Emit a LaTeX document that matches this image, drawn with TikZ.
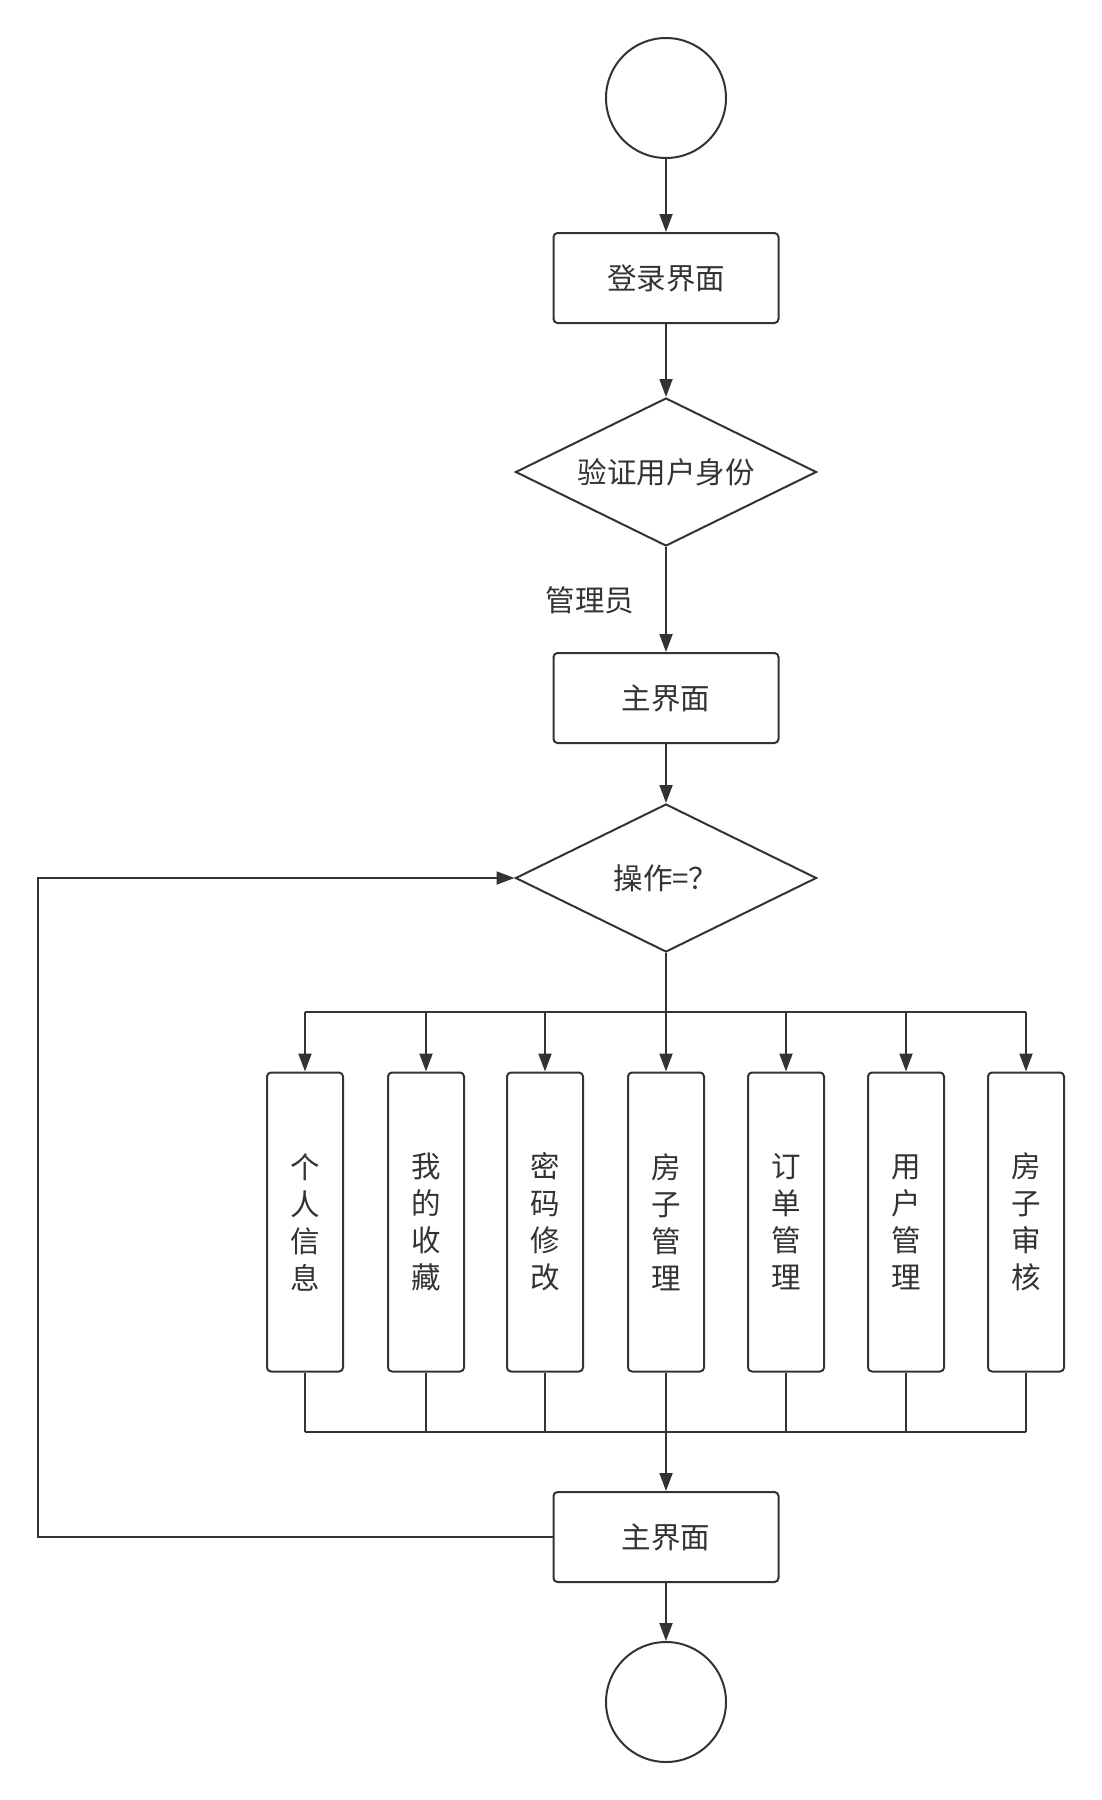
\documentclass[tikz,border=0pt]{standalone}
\usepackage{fontspec}
\setmainfont{Noto Sans CJK SC}
\usetikzlibrary{arrows.meta,shapes.geometric}
\definecolor{ink}{HTML}{333333}
\tikzset{
  flow/.style={draw=ink, line width=2pt, text=ink, font=\fontsize{29.5}{34}\selectfont},
  endpt/.style={flow, circle, minimum size=120pt, inner sep=0pt},
  stepbox/.style={flow, rectangle, rounded corners=4pt, minimum width=225pt, minimum height=90pt},
  choice/.style={flow, diamond, aspect=2, minimum width=301pt, minimum height=148pt, inner sep=0pt},
  funcbox/.style={flow, rectangle, rounded corners=4pt, minimum width=76pt, minimum height=299pt,
    align=center, font=\fontsize{29.5}{37}\selectfont},
  link/.style={draw=ink, line width=2pt},
}
\begin{document}
\begin{tikzpicture}[x=1pt, y=-1pt, >={Triangle[length=18pt,width=13pt]}]
\useasboundingbox (0,0) rectangle (1101,1800);
\node[endpt] (start) at (666,98) {};
\node[stepbox] (login) at (666,278) {登录界面};
\node[choice] (check) at (666,472) {验证用户身份};
\node[text=ink, font=\fontsize{29.5}{34}\selectfont] (admin) at (590,600) {管理员};
\node[stepbox] (main) at (666,698) {主界面};
\node[choice] (op) at (666,878) {操作=？};

\foreach \x/\t [count=\i] in {305/个\\人\\信\\息, 426/我\\的\\收\\藏, 545/密\\码\\修\\改,
    666/房\\子\\管\\理, 786/订\\单\\管\\理, 906/用\\户\\管\\理, 1026/房\\子\\审\\核}
  \node[funcbox] (f\i) at (\x,1222) {\t};

\node[stepbox] (back) at (666,1537) {主界面};
\node[endpt] (stop) at (666,1702) {};

\coordinate (split) at (666,1012);
\coordinate (join) at (666,1432);
\coordinate (loop) at (38,1537);

\draw[link,->] (start) -- (login);
\draw[link,->] (login) -- (check);
\draw[link,->] (check) -- (main);
\draw[link,->] (main) -- (op);
\draw[link] (op.south) -- (split);
\draw[link] (split -| f1.north) -- (split -| f7.north);
\foreach \i in {1,...,7} {
  \draw[link,->] (split -| f\i.north) -- (f\i.north);
  \draw[link] (f\i.south) -- (join -| f\i.south);
}
\draw[link] (join -| f1.south) -- (join -| f7.south);
\draw[link,->] (join) -- (back);
\draw[link,->] (back) -- (stop);
\draw[link,->] (back.west) -- (loop) |- (op.west);
\end{tikzpicture}
\end{document}
